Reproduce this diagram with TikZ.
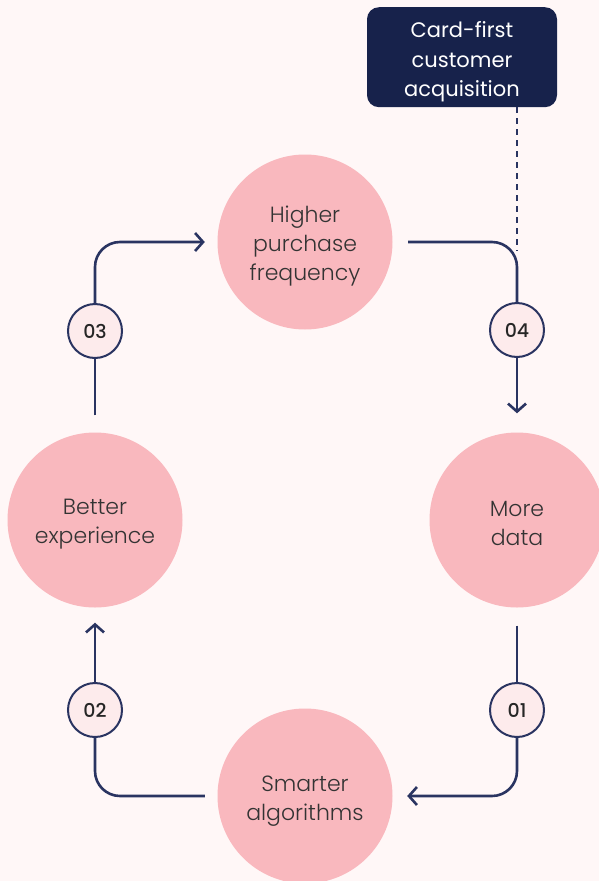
\documentclass[tikz,border=0pt]{standalone}
\usepackage{fontspec}
\setmainfont{Poppins}[UprightFont={* Light}, BoldFont={* Medium}]
\newfontfamily\tagfont{Poppins}
\usetikzlibrary{arrows.meta,positioning}

\definecolor{bgpink}{HTML}{FFF7F7}
\definecolor{discpink}{HTML}{F9B8BE}
\definecolor{badgepink}{HTML}{FDEBEC}
\definecolor{navy}{HTML}{17224B}
\definecolor{linenavy}{HTML}{2A3461}
\definecolor{txtgrey}{HTML}{333333}

% strut that pushes the first line down a little
\newcommand\lift[1]{\rule{0pt}{#1}}

\tikzset{
  stage/.style={circle, fill=discpink, minimum size=175pt, inner sep=0pt,
    align=center, text=txtgrey, font=\fontsize{22}{29}\selectfont},
  badge/.style={circle, draw=linenavy, fill=badgepink, line width=2pt,
    minimum size=54pt, inner sep=0pt, text=black!85,
    font=\fontsize{19}{19}\selectfont\bfseries},
  link/.style={draw=linenavy, line width=2.6pt, rounded corners=25pt},
  flow/.style={link, -{Straight Barb[length=8pt,width=18pt]}},
  tag/.style={fill=navy, text=white, rounded corners=12pt, align=center,
    minimum width=190pt, minimum height=100pt, inner sep=0pt,
    font=\tagfont\fontsize{21}{29.5}\selectfont},
}

\begin{document}
\begin{tikzpicture}[x=1pt,y=-1pt]
  \fill[bgpink] (0,0) rectangle (599,881);
  \useasboundingbox (0,0) rectangle (599,881);

  % the four stages
  \node[stage] (high) at (305,242) {\lift{24pt}Higher\\purchase\\frequency};
  \node[stage] (better) at (95,520) {\lift{23pt}Better\\experience};
  \node[stage] (more) at (517,520) {\lift{22pt}More\\data};
  \node[stage] (smart) at (305,796) {\lift{26pt}Smarter\\algorithms};

  % step numbers
  \node[badge] (b03) at (95,331) {03};
  \node[badge] (b04) at (517,330) {04};
  \node[badge] (b01) at (517,710) {01};
  \node[badge] (b02) at (95,710) {02};

  % acquisition box
  \node[tag, anchor=north] (acq) at (462,7)
    {\lift{26pt}Card-first\\customer\\acquisition};

  % loop
  \draw[link] ([yshift=17pt]better.north) -- (b03.south);
  \draw[flow] (b03.north) |- ([xshift=-12.5pt]high.west);
  \draw[link] ([xshift=15.5pt]high.east) -| (b04.north);
  \draw[flow] (b04.south) -- ([yshift=19pt]more.north);
  \draw[link] ([yshift=-18pt]more.south) -- (b01.north);
  \draw[flow] (b01.south) |- ([xshift=14.5pt]smart.east);
  \draw[link] ([xshift=-12.5pt]smart.west) -| (b02.south);
  \draw[flow] (b02.north) -- ([yshift=-15pt]better.south);

  \coordinate (tap) at ([yshift=-9pt]b04.north |- high.east);
  \draw[linenavy, line width=1.6pt, dash pattern=on 6pt off 5pt]
    (acq.south -| tap) -- (tap);
\end{tikzpicture}
\end{document}
